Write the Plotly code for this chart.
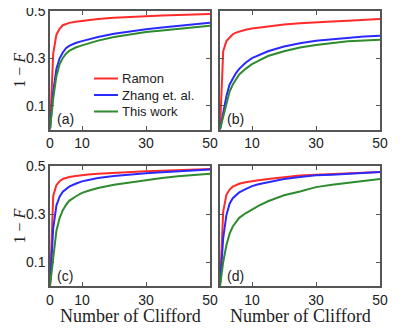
import plotly.graph_objects as go

# Number of Clifford gates (read at these points)
n_clifford = [0, 1, 2, 3, 4, 5, 6, 8, 10, 12, 15, 20, 25, 30, 35, 40, 45, 50]

# 1 - F, panel (a)
a_ramon = [0, 0.32, 0.40, 0.425, 0.44, 0.446, 0.45, 0.455, 0.459, 0.462, 0.466, 0.471, 0.475, 0.479, 0.481, 0.483, 0.484, 0.487]
a_zhang = [0, 0.16, 0.255, 0.30, 0.325, 0.343, 0.353, 0.365, 0.373, 0.38, 0.39, 0.404, 0.414, 0.423, 0.43, 0.436, 0.442, 0.45]
a_this = [0, 0.13, 0.225, 0.275, 0.302, 0.32, 0.332, 0.346, 0.355, 0.363, 0.375, 0.39, 0.401, 0.411, 0.418, 0.425, 0.431, 0.438]

# panel (b)
b_ramon = [0, 0.33, 0.373, 0.39, 0.402, 0.409, 0.414, 0.421, 0.426, 0.43, 0.436, 0.443, 0.448, 0.453, 0.456, 0.459, 0.462, 0.466]
b_zhang = [0, 0.07, 0.14, 0.19, 0.217, 0.238, 0.256, 0.282, 0.301, 0.314, 0.33, 0.35, 0.364, 0.374, 0.381, 0.387, 0.392, 0.396]
b_this = [0, 0.05, 0.11, 0.16, 0.19, 0.213, 0.232, 0.256, 0.276, 0.29, 0.31, 0.33, 0.346, 0.357, 0.365, 0.372, 0.376, 0.379]

# panel (c)
c_ramon = [0, 0.375, 0.42, 0.437, 0.446, 0.45, 0.454, 0.458, 0.462, 0.465, 0.468, 0.472, 0.475, 0.478, 0.48, 0.483, 0.485, 0.487]
c_zhang = [0, 0.24, 0.335, 0.372, 0.393, 0.405, 0.414, 0.426, 0.436, 0.442, 0.45, 0.458, 0.465, 0.47, 0.474, 0.478, 0.482, 0.485]
c_this = [0, 0.13, 0.23, 0.283, 0.316, 0.338, 0.355, 0.373, 0.388, 0.397, 0.408, 0.422, 0.432, 0.442, 0.45, 0.457, 0.463, 0.468]

# panel (d)
d_ramon = [0, 0.31, 0.38, 0.402, 0.414, 0.421, 0.426, 0.432, 0.437, 0.441, 0.446, 0.454, 0.46, 0.464, 0.467, 0.47, 0.472, 0.475]
d_zhang = [0, 0.20, 0.295, 0.343, 0.366, 0.38, 0.39, 0.404, 0.416, 0.424, 0.433, 0.446, 0.454, 0.461, 0.464, 0.468, 0.472, 0.475]
d_this = [0, 0.10, 0.17, 0.218, 0.248, 0.268, 0.284, 0.303, 0.32, 0.334, 0.353, 0.378, 0.394, 0.412, 0.422, 0.43, 0.436, 0.446]

names = ['Ramon', 'Zhang et. al.', 'This work']
colors = ['#ff2a2a', '#2a2aff', '#2e8b2e']
panel_labels = ['(a)', '(b)', '(c)', '(d)']

panels = [
    (a_ramon, a_zhang, a_this),
    (b_ramon, b_zhang, b_this),
    (c_ramon, c_zhang, c_this),
    (d_ramon, d_zhang, d_this),
]

# page body keeps its default 8px margin; figure is placed 8px in,
# positions below are given in window pixels and shifted back
W, H = 416, 328
OFF = 8


def px(x):
    return (x - OFF) / W


def py(y):
    return 1 - (y - OFF) / H


xdoms = [[px(50), px(210)], [px(220), px(380)]]
ydoms = [[py(129.5), py(11)], [py(286), py(166)]]

axis_color = '#555555'
text_color = '#222222'
sans = 'Liberation Sans, Arial'
serif = 'Liberation Serif, serif'
tick_font = dict(family=sans, size=14, color=text_color)

fig = go.Figure()
layout = {}
annotations = []
shapes = []

for k, series in enumerate(panels):
    row, col = divmod(k, 2)
    ax = '' if k == 0 else str(k + 1)
    for s, name, color in zip(series, names, colors):
        fig.add_trace(go.Scatter(
            x=n_clifford, y=s, mode='lines', name=name,
            line=dict(color=color, width=2),
            xaxis='x' + ax, yaxis='y' + ax,
            showlegend=False,
        ))
    layout['xaxis' + ax] = dict(
        domain=xdoms[col], anchor='y' + ax, range=[0, 50],
        tickvals=[0, 10, 30, 50] if col == 0 else [10, 30, 50],
        showline=True, mirror='ticks', linecolor=axis_color, linewidth=1.5,
        ticks='inside', ticklen=4, tickcolor=axis_color, tickwidth=1,
        showgrid=False, zeroline=False, tickfont=tick_font, automargin=False,
        ticklabeloverflow='allow',
    )
    layout['yaxis' + ax] = dict(
        domain=ydoms[row], anchor='x' + ax, range=[0, 0.5],
        tickvals=[0.1, 0.3, 0.5], showticklabels=(col == 0),
        tickformat='.1f',
        showline=True, mirror='ticks', linecolor=axis_color, linewidth=1.5,
        ticks='inside', ticklen=4, tickcolor=axis_color, tickwidth=1,
        showgrid=False, zeroline=False, tickfont=tick_font, automargin=False,
        ticklabeloverflow='allow',
    )
    # panel label
    annotations.append(dict(
        xref='x' + ax + ' domain', yref='y' + ax + ' domain', x=0.03, y=0.0,
        xanchor='left', yanchor='bottom', text=panel_labels[k], showarrow=False,
        font=dict(family=sans, size=14, color=text_color),
    ))

# legend in panel (a), drawn as key lines plus labels
for i, (name, color) in enumerate(zip(names, colors)):
    ypos = py(78.5 + 16.5 * i)
    shapes.append(dict(
        type='line', xref='paper', yref='paper',
        x0=px(94), x1=px(118), y0=ypos, y1=ypos,
        line=dict(color=color, width=2),
    ))
    annotations.append(dict(
        xref='paper', yref='paper', x=px(120), y=ypos,
        xanchor='left', yanchor='middle', text=name, showarrow=False,
        font=dict(family=sans, size=13, color=text_color),
    ))

# y titles
for row in range(2):
    annotations.append(dict(
        xref='paper', yref='paper', x=px(9), y=sum(ydoms[row]) / 2,
        text='1 − <i>F</i>', textangle=-90, showarrow=False,
        xanchor='left', yanchor='middle',
        font=dict(family=serif, size=16, color=text_color),
    ))
# x titles
for col in range(2):
    annotations.append(dict(
        xref='paper', yref='paper', x=sum(xdoms[col]) / 2, y=py(316),
        text='Number of Clifford', showarrow=False,
        xanchor='center', yanchor='middle',
        font=dict(family=serif, size=18, color=text_color),
    ))

fig.update_layout(
    **layout,
    annotations=annotations,
    shapes=shapes,
    width=W, height=H,
    margin=dict(l=0, r=0, t=0, b=0, autoexpand=False),
    plot_bgcolor='white', paper_bgcolor='white',
    showlegend=False,
)

fig.write_html('out.html')
